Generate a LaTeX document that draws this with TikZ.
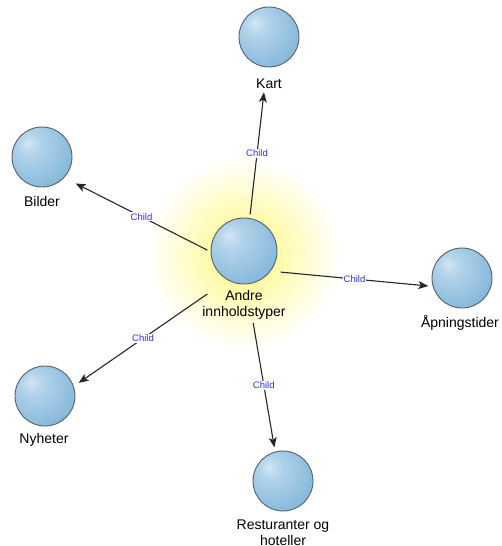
\documentclass[tikz,border=0pt]{standalone}
\usepackage{fontspec}
\setmainfont{Liberation Sans}
\usetikzlibrary{arrows.meta,fit}

\definecolor{sphhi}{RGB}{210,231,244}
\definecolor{sphmid}{RGB}{140,188,221}
\definecolor{sphlow}{RGB}{102,156,198}
\definecolor{sphrim}{RGB}{86,96,108}
\definecolor{glowcore}{RGB}{255,248,120}
\definecolor{childblue}{RGB}{50,50,225}

% shaded balls
\pgfdeclareradialshading{sphere}{\pgfpoint{-12bp}{12bp}}{color(0bp)=(sphhi); color(9bp)=(sphhi!55!sphmid); color(30bp)=(sphmid); color(58bp)=(sphlow); color(75bp)=(sphlow)}

\tikzset{>={Stealth[length=10pt,width=8pt,inset=2.5pt]}}
\tikzset{
  ball/.style={circle,draw=sphrim,line width=0.9pt,shading=sphere,minimum size=60pt,inner sep=0pt},
  balltext/.style={font=\fontsize{14}{16}\selectfont,align=center,inner sep=0pt},
  grp/.style={inner sep=3pt},
  rel/.style={->,line width=1.1pt,draw=black!85},
  childtag/.style={fill=white,text=childblue,font=\fontsize{9.5}{10}\selectfont,inner sep=1pt}
}

\begin{document}
\begin{tikzpicture}[x=1pt,y=-1pt]
    \useasboundingbox (0,0) rectangle (501,546);

    % Soft halo behind the hub
    \shade[inner color=glowcore,outer color=white] (244,254) circle (96);

    % Hub ball
    \node[ball,minimum size=66pt] (hub) at (244,251) {};
    \node[balltext] (hub-txt) at (244,305) {Andre\\innholdstyper};

    % Child balls
    \node[ball] (kart) at (269,37) {};
    \node[balltext] (kart-txt) at (269,84) {Kart};

    \node[ball] (bilder) at (42,157) {};
    \node[balltext] (bilder-txt) at (42,201) {Bilder};

    \node[ball] (apn) at (462,278) {};
    \node[balltext] (apn-txt) at (460,323) {Åpningstider};

    \node[ball] (nyheter) at (45,396) {};
    \node[balltext] (nyheter-txt) at (44,440) {Nyheter};

    \node[ball] (rest) at (283,481) {};
    \node[balltext] (rest-txt) at (283,533) {Resturanter og\\hoteller};

    % Ball plus caption as one target
    \node[grp,fit=(hub)(hub-txt.south)] (hub-grp) {};
    \node[grp,fit=(kart)(kart-txt.south)] (kart-grp) {};
    \node[grp,fit=(bilder)(bilder-txt.south)] (bilder-grp) {};
    \node[grp,fit=(apn)(apn-txt.south)] (apn-grp) {};
    \node[grp,fit=(nyheter)(nyheter-txt.south)] (nyheter-grp) {};
    \node[grp,fit=(rest)(rest-txt.south)] (rest-grp) {};

    % Draw the links
    \draw[rel] (hub-grp) -- node[childtag] {Child} (kart-grp);
    \draw[rel] (hub-grp) -- node[childtag] {Child} (bilder-grp);
    \draw[rel] (hub-grp) -- node[childtag] {Child} (apn-grp);
    \draw[rel] (hub-grp) -- node[childtag] {Child} (nyheter-grp);
    \draw[rel] (hub-grp) -- node[childtag] {Child} (rest-grp);
\end{tikzpicture}
\end{document}
